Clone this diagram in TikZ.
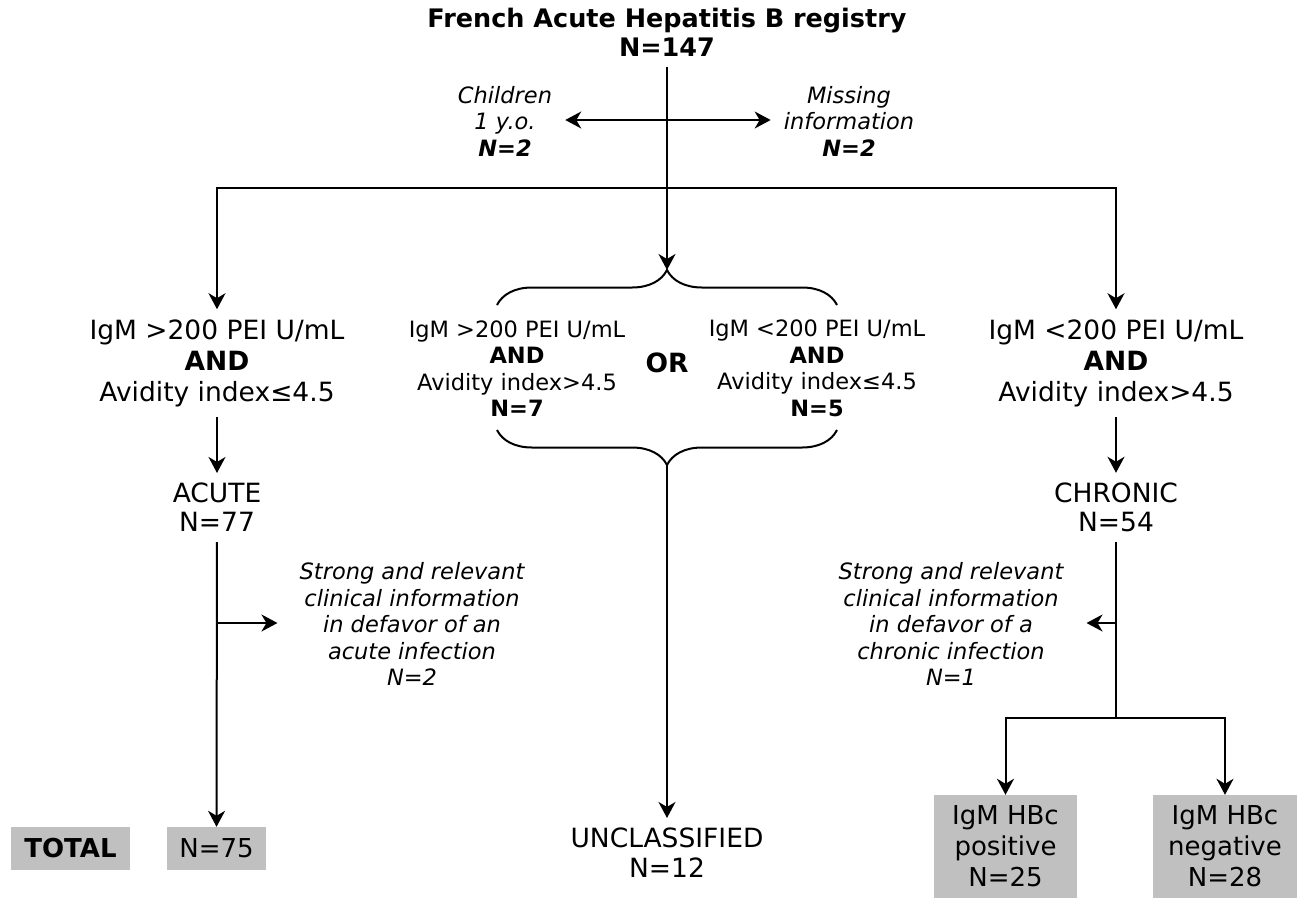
\documentclass[tikz,border=0pt]{standalone}
\usepackage{fontspec}
\setmainfont{DejaVu Sans}
\usepackage{tikz}
\usetikzlibrary{arrows.meta,decorations.pathreplacing}
\definecolor{ink}{HTML}{000000}
\definecolor{boxgrey}{HTML}{C0C0C0}
\tikzset{
  link/.style={draw=ink, line width=2pt},
  arr/.style={link, -{Stealth[length=16pt,width=17pt,inset=5pt]}},
  brc/.style={link, decorate, decoration={brace, amplitude=35pt, aspect=0.5}},
  big/.style={align=center, font=\fontsize{26.5}{31}\selectfont, inner sep=10pt},
  small/.style={align=center, font=\fontsize{22.5}{26.5}\selectfont, inner sep=10pt},
  note/.style={small, font=\fontsize{22.5}{26.5}\selectfont\itshape, inner xsep=13pt},
  greybox/.style={fill=boxgrey, align=center, font=\fontsize{26}{31}\selectfont, inner sep=0pt}
}

\begin{document}
\begin{tikzpicture}[x=1pt,y=-1pt]
  \useasboundingbox (0,0) rectangle (1299,898);

  % registry and exclusions
  \node[align=center, inner sep=10pt, font=\fontsize{25.5}{29}\selectfont\bfseries] (title) at (667,32.5) {French Acute Hepatitis B registry\\N=147};
  \node[note] (children) at (505,121) {Children\\1 y.o.\\\textbf{N=2}};
  \node[note] (missing) at (849,121) {Missing\\information\\\textbf{N=2}};
  \coordinate (excl) at (667,120);
  \coordinate (split) at (667,188);
  \coordinate (topbrace) at (667,270);
  \coordinate (botbrace) at (667,465);

  % criteria
  \node[big] (leftcrit) at (217,363) {IgM >200 PEI U/mL\\\textbf{AND}\\Avidity index≤4.5};
  \node[small] (midleft) at (517,368.5) {IgM >200 PEI U/mL\\\textbf{AND}\\Avidity index>4.5\\\textbf{N=7}};
  \node[big, font=\fontsize{26.5}{31}\selectfont\bfseries] (or) at (667,363) {OR};
  \node[small] (midright) at (817,368.5) {IgM <200 PEI U/mL\\\textbf{AND}\\Avidity index≤4.5\\\textbf{N=5}};
  \node[big] (rightcrit) at (1116,363) {IgM <200 PEI U/mL\\\textbf{AND}\\Avidity index>4.5};

  % classes
  \node[big, font=\fontsize{26.5}{29}\selectfont] (acute) at (217,507.5) {ACUTE\\N=77};
  \node[big, font=\fontsize{26.5}{29}\selectfont] (chronic) at (1116,507.5) {CHRONIC\\N=54};
  \node[note, inner xsep=22pt] (leftinfo) at (412,624) {Strong and relevant\\clinical information\\in defavor of an\\acute infection\\N=2};
  \node[note, inner xsep=23pt] (rightinfo) at (951,624) {Strong and relevant\\clinical information\\in defavor of a\\chronic infection\\N=1};
  \node[big, font=\fontsize{26.5}{30}\selectfont] (unclassified) at (667,853) {UNCLASSIFIED\\N=12};

  % totals
  \node[greybox, minimum width=119pt, minimum height=43pt, font=\fontsize{26}{31}\selectfont\bfseries] (total) at (70.5,848.5) {TOTAL};
  \node[greybox, minimum width=99pt, minimum height=43pt] (n75) at (216.5,848.5) {N=75};
  \node[greybox, minimum width=143pt, minimum height=103pt] (pos) at (1005.5,846.5) {IgM HBc\\positive\\N=25};
  \node[greybox, minimum width=144pt, minimum height=103pt] (neg) at (1225,846.5) {IgM HBc\\negative\\N=28};

  % connectors
  \draw[arr] (title) -- (topbrace);
  \draw[arr] (excl) -- (excl -| children.east);
  \draw[arr] (excl) -- (excl -| missing.west);
  \draw[arr] (split) -| (leftcrit);
  \draw[arr] (split) -| (rightcrit);
  \draw[brc] (497,305) -- (837,305);
  \draw[brc] (837,430) -- (497,430);
  \draw[arr] (botbrace) -- (unclassified);

  \draw[arr] (leftcrit) -- (acute);
  \draw[arr] (acute) -- (n75);
  \coordinate (lj) at (217,623);
  \draw[arr] (lj) -- (lj -| leftinfo.west);

  \draw[arr] (rightcrit) -- (chronic);
  \coordinate (rj) at (1116,718);
  \coordinate (rk) at (1116,623);
  \draw[link] (chronic) -- (rj);
  \draw[arr] (rk) -- (rk -| rightinfo.east);
  \draw[arr] (rj) -| (pos);
  \draw[arr] (rj) -| (neg);
\end{tikzpicture}
\end{document}
